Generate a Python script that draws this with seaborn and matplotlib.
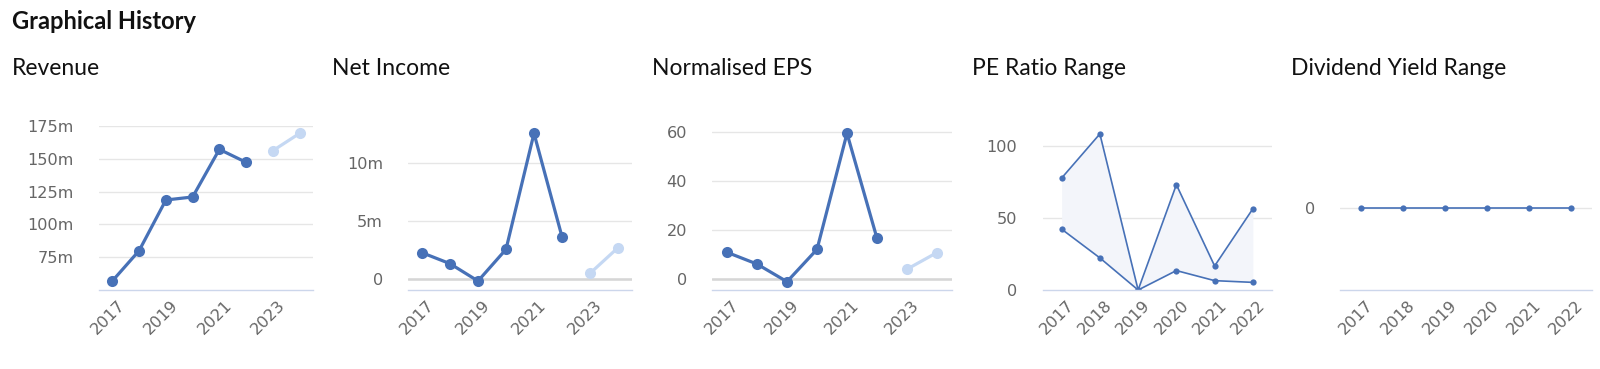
import numpy as np
import pandas as pd
import seaborn as sns
import matplotlib.pyplot as plt
from matplotlib.ticker import FuncFormatter, FixedLocator
from matplotlib.transforms import ScaledTranslation

# --- data ---
years = [2017, 2018, 2019, 2020, 2021, 2022]
years_fc = [2023, 2024]

revenue = [56.9, 80.0, 118.6, 120.9, 157.2, 147.3]        # millions
revenue_fc = [156.2, 169.4]
net_income = [2.28, 1.34, -0.15, 2.57, 12.52, 3.65]      # millions
net_income_fc = [0.51, 2.71]
eps = [11.0, 6.2, -1.0, 12.2, 59.6, 16.7]
eps_fc = [4.1, 10.9]
pe_high = [77.8, 108.5, 0.0, 73.2, 16.7, 56.5]
pe_low = [42.3, 22.3, 0.0, 13.5, 6.5, 5.3]
div_yield = [0, 0, 0, 0, 0, 0]

titles = ['Revenue', 'Net Income', 'Normalised EPS', 'PE Ratio Range', 'Dividend Yield Range']
title_x = [12, 332, 652, 972, 1291]

BLUE = '#4771b7'
LIGHT = '#c5d8f3'
GRID = '#e6e6e6'
AXLINE = '#ccd6eb'

sns.set_theme(style='white')
plt.rcParams['font.family'] = ['DejaVu Sans']

W, H = 1600, 369
fig = plt.figure(figsize=(W / 100, H / 100), dpi=100)

# plot areas in pixels (left, right), shared top/bottom
areas = [(99, 313), (408, 632), (712, 952), (1042.5, 1272), (1340, 1592)]
top_px, bot_px = 126, 290
axes = []
for l, r in areas:
    ax = fig.add_axes([l / W, 1 - bot_px / H, (r - l) / W, (bot_px - top_px) / H])
    axes.append(ax)


def fmt_m(v, pos):
    if abs(v) < 1e-9:
        return '0'
    return '%gm' % v


def style(ax, xticks, yticks, ylim, xlim, fmt=None):
    ax.set_xlim(*xlim)
    ax.set_ylim(*ylim)
    for s in ['top', 'left', 'right']:
        ax.spines[s].set_visible(False)
    ax.spines['bottom'].set_color(AXLINE)
    ax.spines['bottom'].set_linewidth(1.0)
    ax.yaxis.set_major_locator(FixedLocator(yticks))
    for yv in yticks:
        if yv > ylim[0] + 1e-9:
            ax.axhline(yv, color=GRID, lw=1.0, zorder=0)
    if fmt is not None:
        ax.yaxis.set_major_formatter(FuncFormatter(fmt))
    else:
        ax.yaxis.set_major_formatter(FuncFormatter(lambda v, p: '%g' % v))
    ax.set_xticks(xticks)
    ax.set_xticklabels([str(x) for x in xticks])
    ax.tick_params(axis='y', length=0, pad=18, labelsize=11.6, labelcolor='#666666')
    ax.tick_params(axis='x', length=0, pad=0, labelsize=11.6, labelcolor='#666666')
    off = ScaledTranslation(0.13, -0.16, fig.dpi_scale_trans)
    for lab in ax.get_xticklabels():
        lab.set_rotation(45)
        lab.set_rotation_mode('anchor')
        lab.set_ha('right')
        lab.set_va('baseline')
        lab.set_transform(lab.get_transform() + off)
    ax.set_xlabel('')
    ax.set_ylabel('')
    ax.set_facecolor('white')


big = dict(marker='o', markersize=8, linewidth=2.3, markeredgewidth=0)
small = dict(marker='o', markersize=4.5, linewidth=1.2, markeredgewidth=0)

# Revenue (50m sits on the axis line, no label there)
ax = axes[0]
sns.lineplot(x=years, y=revenue, color=BLUE, ax=ax, **big)
sns.lineplot(x=years_fc, y=revenue_fc, color=LIGHT, ax=ax, **big)
style(ax, [2017, 2019, 2021, 2023], [75, 100, 125, 150, 175], (50, 175), (2016.5, 2024.5), fmt_m)

# Net income
ax = axes[1]
ax.axhline(0, color='#d6d6d6', lw=1.8, zorder=0.5)
sns.lineplot(x=years, y=net_income, color=BLUE, ax=ax, **big)
sns.lineplot(x=years_fc, y=net_income_fc, color=LIGHT, ax=ax, **big)
style(ax, [2017, 2019, 2021, 2023], [0, 5, 10], (-0.92, 13.15), (2016.5, 2024.5), fmt_m)

# Normalised EPS
ax = axes[2]
ax.axhline(0, color='#d6d6d6', lw=1.8, zorder=0.5)
sns.lineplot(x=years, y=eps, color=BLUE, ax=ax, **big)
sns.lineplot(x=years_fc, y=eps_fc, color=LIGHT, ax=ax, **big)
style(ax, [2017, 2019, 2021, 2023], [0, 20, 40, 60], (-4.4, 62.6), (2016.5, 2024.5))

# PE ratio range
ax = axes[3]
ax.fill_between(years, pe_low, pe_high, color='#f3f5fa', lw=0, zorder=1)
sns.lineplot(x=years, y=pe_high, color=BLUE, ax=ax, **small)
sns.lineplot(x=years, y=pe_low, color=BLUE, ax=ax, **small)
style(ax, years, [0, 50, 100], (0, 114), (2016.5, 2022.5))

# Dividend yield range
ax = axes[4]
sns.lineplot(x=years, y=div_yield, color=BLUE, ax=ax, zorder=3, **small)
style(ax, years, [0], (-1, 1), (2016.5, 2022.5))

# titles
fig.text(12 / W, 1 - 29 / H, 'Graphical History', fontsize=17, fontweight='bold',
         family='Lato', color='#111111', va='baseline', ha='left')
for t, x in zip(titles, title_x):
    fig.text(x / W, 1 - 75 / H, t, fontsize=16.5, family='Lato', color='#111111',
             va='baseline', ha='left')

fig.savefig('out.png', dpi=100, facecolor='white')
